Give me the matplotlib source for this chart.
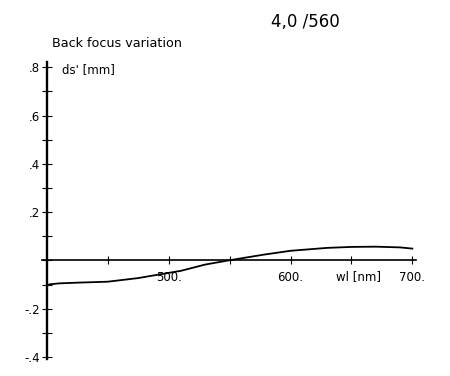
import matplotlib
matplotlib.use("Agg")
import matplotlib.pyplot as plt
from matplotlib.ticker import FixedLocator, FixedFormatter

# back focus variation vs wavelength
wl = [400, 402, 410, 425, 450, 475, 490, 510, 530, 549, 578, 600, 630, 650, 670, 690, 700]
ds = [-0.105, -0.099, -0.095, -0.092, -0.088, -0.073, -0.060, -0.043, -0.017, 0.0,
      0.024, 0.040, 0.052, 0.056, 0.057, 0.054, 0.049]

y_major = [0.8, 0.6, 0.4, 0.2, 0.0, -0.2, -0.4]
y_labels = [".8", ".6", ".4", ".2", "", "-.2", "-.4"]
y_minor = [0.7, 0.5, 0.3, 0.1, -0.1, -0.3]
x_major = [450, 500, 550, 600, 650, 700]
x_labels = ["", "500.", "", "600.", "", "700."]

plt.rcParams["font.family"] = "DejaVu Sans"

fig = plt.figure(figsize=(4.5, 3.76), dpi=100)
ax = fig.add_axes([42 / 450, 0.044, 374 / 450, 0.79])
ax.set_xlim(396, 703)
ax.set_ylim(-0.41, 0.82)

ax.plot(wl, ds, color="black", lw=1.3)

for s in ("top", "right"):
    ax.spines[s].set_visible(False)
ax.spines["left"].set_position(("data", 400))
ax.spines["bottom"].set_position(("data", 0))
ax.spines["left"].set_linewidth(1.7)
ax.spines["bottom"].set_linewidth(1.2)

ax.yaxis.set_major_locator(FixedLocator(y_major))
ax.yaxis.set_major_formatter(FixedFormatter(y_labels))
ax.yaxis.set_minor_locator(FixedLocator(y_minor))
ax.xaxis.set_major_locator(FixedLocator(x_major))
ax.xaxis.set_major_formatter(FixedFormatter(x_labels))

ax.tick_params(axis="y", which="both", direction="inout", length=6.5, width=0.8, pad=2,
               labelsize=8.5)
ax.tick_params(axis="x", which="major", direction="inout", length=5.5, width=0.8, pad=5,
               labelsize=8.5)

# axis unit label sits in the tick-label row, between 600 and 700
ax.text(656, -0.04, "wl [nm]", ha="center", va="top", fontsize=8.5)

fig.text(0.678, 0.941, "4,0 /560", ha="center", va="center", fontsize=12)
fig.text(0.1156, 0.883, "Back focus variation", ha="left", va="center", fontsize=9.2)
fig.text(0.138, 0.814, "ds' [mm]", ha="left", va="center", fontsize=8.5)

fig.savefig("out.png", dpi=100)
